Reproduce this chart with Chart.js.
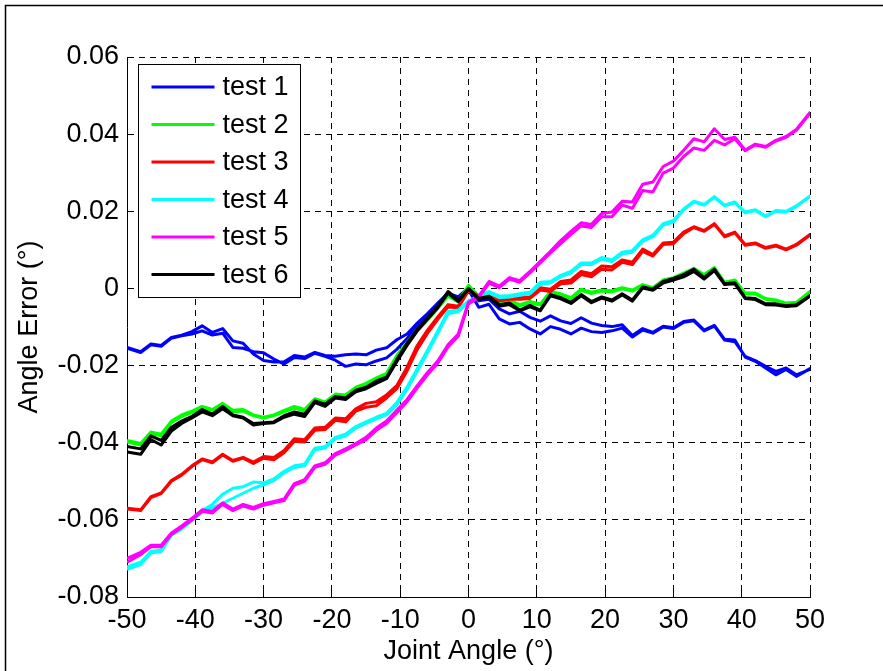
<!DOCTYPE html>
<html lang="en">
<head>
    <meta charset="UTF-8">
    <title>Angle Error vs Joint Angle</title>
    <script src="https://cdn.jsdelivr.net/npm/chart.js"></script>
    <style>
        body {
            margin: 0;
            background: #fff;
        }
        canvas {
            display: block;
        }
    </style>
</head>
<body>
    <canvas id="errorChart" width="883" height="671"></canvas>

    <script>
        // Joint angle samples (degrees), shared by every sweep
        const angles = [-50, -48, -46.5, -45, -43.5, -42, -40.5, -39, -37.5, -36,
            -34.5, -33, -31.5, -30, -28.5, -27, -25.5, -24, -22.5, -21,
            -19.5, -18, -16.5, -15, -13.5, -12, -10.5, -9, -7.5, -6,
            -4.5, -3, -1.5, 0, 1.5, 3, 4.5, 6, 7.5, 9,
            10.5, 12, 13.5, 15, 16.5, 18, 19.5, 21, 22.5, 24,
            25.5, 27, 28.5, 30, 31.5, 33, 34.5, 36, 37.5, 39,
            40.5, 42, 43.5, 45, 46.5, 48, 50];

        const testLabels = ['test 1', 'test 2', 'test 3', 'test 4', 'test 5', 'test 6'];
        const testColors = ['#0000ff', '#00ff00', '#ff0000', '#00ffff', '#ff00ff', '#000000'];

        // Angle error (degrees): outward sweep and return sweep for each test
        const test1Out = [-0.0153, -0.0164, -0.0144, -0.0148, -0.0127, -0.0121, -0.0112, -0.0097, -0.0114, -0.0104,
            -0.0136, -0.0142, -0.0170, -0.0187, -0.0191, -0.0190, -0.0174, -0.0178, -0.0166, -0.0174,
            -0.0176, -0.0172, -0.0170, -0.0172, -0.0160, -0.0154, -0.0133, -0.0118, -0.0090, -0.0065,
            -0.0038, -0.0012, -0.0022, 0.0002, -0.0032, -0.0028, -0.0053, -0.0066, -0.0059, -0.0075,
            -0.0085, -0.0071, -0.0084, -0.0091, -0.0076, -0.0090, -0.0096, -0.0099, -0.0094, -0.0122,
            -0.0104, -0.0114, -0.0098, -0.0102, -0.0086, -0.0082, -0.0108, -0.0096, -0.0132, -0.0134,
            -0.0178, -0.0189, -0.0206, -0.0224, -0.0210, -0.0228, -0.0208];
        const test1Back = [-0.0155, -0.0166, -0.0146, -0.0150, -0.0129, -0.0123, -0.0118, -0.0110, -0.0121, -0.0116,
            -0.0153, -0.0155, -0.0164, -0.0167, -0.0183, -0.0196, -0.0179, -0.0182, -0.0168, -0.0176,
            -0.0186, -0.0202, -0.0196, -0.0198, -0.0188, -0.0180, -0.0158, -0.0130, -0.0100, -0.0072,
            -0.0046, -0.0018, -0.0028, -0.0004, -0.0049, -0.0041, -0.0079, -0.0092, -0.0088, -0.0105,
            -0.0118, -0.0099, -0.0106, -0.0118, -0.0103, -0.0112, -0.0114, -0.0110, -0.0103, -0.0126,
            -0.0108, -0.0116, -0.0100, -0.0104, -0.0088, -0.0084, -0.0110, -0.0098, -0.0134, -0.0138,
            -0.0176, -0.0187, -0.0202, -0.0215, -0.0206, -0.0224, -0.0210];

        const test2Out = [-0.0394, -0.0402, -0.0372, -0.0378, -0.0344, -0.0328, -0.0318, -0.0306, -0.0314, -0.0298,
            -0.0316, -0.0314, -0.0328, -0.0334, -0.0328, -0.0316, -0.0306, -0.0314, -0.0286, -0.0294,
            -0.0274, -0.0276, -0.0256, -0.0246, -0.0232, -0.0220, -0.0174, -0.0140, -0.0106, -0.0078,
            -0.0048, -0.0016, -0.0032, 0.0008, -0.0020, -0.0014, -0.0038, -0.0030, -0.0042, -0.0034,
            -0.0040, -0.0008, -0.0014, -0.0024, -0.0002, -0.0010, -0.0004, -0.0006, 0.0002, -0.0004,
            0.0010, 0.0002, 0.0022, 0.0028, 0.0040, 0.0052, 0.0036, 0.0054, 0.0016, 0.0022,
            -0.0012, -0.0012, -0.0026, -0.0030, -0.0038, -0.0036, -0.0008];
        const test2Back = [-0.0398, -0.0406, -0.0376, -0.0382, -0.0348, -0.0332, -0.0322, -0.0310, -0.0316, -0.0302,
            -0.0320, -0.0318, -0.0330, -0.0336, -0.0330, -0.0320, -0.0310, -0.0318, -0.0290, -0.0298,
            -0.0278, -0.0280, -0.0260, -0.0250, -0.0236, -0.0224, -0.0180, -0.0146, -0.0110, -0.0082,
            -0.0052, -0.0020, -0.0035, 0.0006, -0.0023, -0.0017, -0.0041, -0.0033, -0.0045, -0.0037,
            -0.0043, -0.0011, -0.0017, -0.0027, -0.0005, -0.0013, -0.0007, -0.0009, -0.0001, -0.0007,
            0.0007, -0.0001, 0.0019, 0.0025, 0.0036, 0.0049, 0.0033, 0.0051, 0.0013, 0.0019,
            -0.0014, -0.0015, -0.0028, -0.0032, -0.0040, -0.0039, -0.0011];

        const test3Out = [-0.0570, -0.0574, -0.0540, -0.0530, -0.0498, -0.0482, -0.0460, -0.0442, -0.0450, -0.0430,
            -0.0446, -0.0438, -0.0450, -0.0436, -0.0438, -0.0420, -0.0390, -0.0392, -0.0362, -0.0360,
            -0.0336, -0.0338, -0.0312, -0.0298, -0.0294, -0.0276, -0.0252, -0.0204, -0.0148, -0.0108,
            -0.0074, -0.0042, -0.0046, -0.0004, -0.0020, -0.0020, -0.0028, -0.0024, -0.0024, -0.0022,
            0.0002, -0.0002, 0.0018, 0.0022, 0.0044, 0.0038, 0.0058, 0.0056, 0.0074, 0.0068,
            0.0102, 0.0088, 0.0118, 0.0120, 0.0146, 0.0160, 0.0150, 0.0168, 0.0136, 0.0146,
            0.0114, 0.0118, 0.0106, 0.0112, 0.0102, 0.0114, 0.0140];
        const test3Back = [-0.0572, -0.0576, -0.0542, -0.0532, -0.0500, -0.0484, -0.0462, -0.0444, -0.0452, -0.0432,
            -0.0448, -0.0440, -0.0454, -0.0440, -0.0444, -0.0426, -0.0396, -0.0398, -0.0368, -0.0366,
            -0.0342, -0.0346, -0.0318, -0.0308, -0.0304, -0.0284, -0.0260, -0.0214, -0.0158, -0.0116,
            -0.0080, -0.0048, -0.0050, -0.0006, -0.0024, -0.0024, -0.0032, -0.0028, -0.0028, -0.0026,
            -0.0004, -0.0008, 0.0012, 0.0014, 0.0036, 0.0030, 0.0050, 0.0048, 0.0068, 0.0062,
            0.0096, 0.0084, 0.0114, 0.0116, 0.0142, 0.0158, 0.0148, 0.0166, 0.0134, 0.0144,
            0.0112, 0.0116, 0.0104, 0.0110, 0.0100, 0.0112, 0.0138];

        const test4Out = [-0.0722, -0.0710, -0.0682, -0.0678, -0.0636, -0.0620, -0.0598, -0.0576, -0.0560, -0.0534,
            -0.0518, -0.0514, -0.0502, -0.0504, -0.0494, -0.0474, -0.0460, -0.0456, -0.0414, -0.0410,
            -0.0386, -0.0378, -0.0358, -0.0346, -0.0334, -0.0324, -0.0296, -0.0256, -0.0208, -0.0160,
            -0.0110, -0.0060, -0.0056, -0.0032, -0.0020, -0.0008, -0.0020, -0.0018, -0.0014, -0.0010,
            0.0016, 0.0018, 0.0034, 0.0044, 0.0066, 0.0066, 0.0080, 0.0074, 0.0094, 0.0098,
            0.0126, 0.0138, 0.0168, 0.0176, 0.0206, 0.0226, 0.0218, 0.0238, 0.0216, 0.0224,
            0.0198, 0.0204, 0.0188, 0.0202, 0.0200, 0.0214, 0.0240];
        const test4Back = [-0.0728, -0.0716, -0.0686, -0.0682, -0.0640, -0.0624, -0.0602, -0.0580, -0.0569, -0.0557,
            -0.0544, -0.0531, -0.0518, -0.0509, -0.0498, -0.0478, -0.0464, -0.0460, -0.0418, -0.0414,
            -0.0390, -0.0382, -0.0362, -0.0350, -0.0338, -0.0328, -0.0302, -0.0262, -0.0214, -0.0166,
            -0.0116, -0.0066, -0.0060, -0.0036, -0.0024, -0.0012, -0.0024, -0.0022, -0.0018, -0.0014,
            0.0010, 0.0014, 0.0030, 0.0040, 0.0062, 0.0062, 0.0076, 0.0070, 0.0090, 0.0094,
            0.0122, 0.0134, 0.0164, 0.0172, 0.0204, 0.0224, 0.0216, 0.0236, 0.0214, 0.0222,
            0.0196, 0.0202, 0.0186, 0.0200, 0.0198, 0.0212, 0.0238];

        const test5Out = [-0.0700, -0.0684, -0.0666, -0.0666, -0.0634, -0.0616, -0.0596, -0.0574, -0.0578, -0.0556,
            -0.0572, -0.0560, -0.0568, -0.0558, -0.0552, -0.0546, -0.0506, -0.0496, -0.0460, -0.0452,
            -0.0428, -0.0416, -0.0402, -0.0386, -0.0362, -0.0344, -0.0316, -0.0288, -0.0252, -0.0218,
            -0.0188, -0.0146, -0.0118, -0.0036, -0.0020, 0.0018, 0.0006, 0.0028, 0.0020, 0.0044,
            0.0070, 0.0096, 0.0124, 0.0148, 0.0170, 0.0166, 0.0194, 0.0198, 0.0226, 0.0224,
            0.0270, 0.0276, 0.0316, 0.0330, 0.0358, 0.0388, 0.0380, 0.0414, 0.0386, 0.0392,
            0.0359, 0.0374, 0.0368, 0.0384, 0.0394, 0.0412, 0.0456];
        const test5Back = [-0.0710, -0.0690, -0.0670, -0.0670, -0.0638, -0.0620, -0.0600, -0.0578, -0.0582, -0.0560,
            -0.0576, -0.0564, -0.0572, -0.0562, -0.0556, -0.0550, -0.0510, -0.0500, -0.0464, -0.0456,
            -0.0432, -0.0420, -0.0406, -0.0392, -0.0368, -0.0350, -0.0322, -0.0294, -0.0258, -0.0224,
            -0.0194, -0.0152, -0.0124, -0.0040, -0.0024, 0.0014, 0.0002, 0.0024, 0.0016, 0.0040,
            0.0066, 0.0092, 0.0116, 0.0140, 0.0162, 0.0158, 0.0186, 0.0186, 0.0216, 0.0208,
            0.0254, 0.0250, 0.0299, 0.0312, 0.0342, 0.0364, 0.0358, 0.0384, 0.0372, 0.0388,
            0.0357, 0.0372, 0.0366, 0.0382, 0.0392, 0.0410, 0.0454];

        const test6Out = [-0.0410, -0.0416, -0.0382, -0.0394, -0.0360, -0.0344, -0.0332, -0.0314, -0.0326, -0.0306,
            -0.0328, -0.0334, -0.0350, -0.0348, -0.0346, -0.0330, -0.0320, -0.0326, -0.0292, -0.0300,
            -0.0280, -0.0284, -0.0264, -0.0256, -0.0240, -0.0230, -0.0184, -0.0142, -0.0106, -0.0076,
            -0.0046, -0.0008, -0.0030, 0.0000, -0.0026, -0.0020, -0.0042, -0.0038, -0.0056, -0.0044,
            -0.0056, -0.0016, -0.0024, -0.0036, -0.0016, -0.0034, -0.0022, -0.0030, -0.0014, -0.0030,
            0.0004, -0.0002, 0.0018, 0.0026, 0.0036, 0.0050, 0.0028, 0.0050, 0.0012, 0.0015,
            -0.0024, -0.0026, -0.0040, -0.0040, -0.0045, -0.0042, -0.0018];
        const test6Back = [-0.0424, -0.0430, -0.0392, -0.0406, -0.0370, -0.0350, -0.0336, -0.0320, -0.0330, -0.0312,
            -0.0330, -0.0336, -0.0354, -0.0350, -0.0348, -0.0334, -0.0326, -0.0332, -0.0296, -0.0306,
            -0.0284, -0.0288, -0.0268, -0.0260, -0.0246, -0.0234, -0.0190, -0.0148, -0.0110, -0.0080,
            -0.0050, -0.0012, -0.0034, -0.0002, -0.0028, -0.0024, -0.0046, -0.0042, -0.0058, -0.0048,
            -0.0058, -0.0019, -0.0027, -0.0039, -0.0019, -0.0037, -0.0025, -0.0033, -0.0017, -0.0033,
            0.0001, -0.0005, 0.0014, 0.0022, 0.0030, 0.0044, 0.0024, 0.0046, 0.0010, 0.0012,
            -0.0026, -0.0029, -0.0042, -0.0043, -0.0047, -0.0045, -0.0020];

        const sweeps = [
            [test1Out, test1Back],
            [test2Out, test2Back],
            [test3Out, test3Back],
            [test4Out, test4Back],
            [test5Out, test5Back],
            [test6Out, test6Back]
        ];

        const FONT = '"Liberation Sans", Arial, Helvetica, sans-serif';
        const TEXT_SIZE = 27;
        Chart.defaults.font.family = FONT;
        Chart.defaults.font.size = TEXT_SIZE;
        Chart.defaults.color = '#000';

        // One closed path per test: out from -50 to 50, then back to -50
        function loopPoints(outward, back) {
            const there = angles.map((a, i) => ({ x: a, y: outward[i] }));
            const home = angles.map((a, i) => ({ x: a, y: back[i] })).reverse();
            return there.concat(home);
        }

        // White page with the figure frame along the top and left edges
        const figureFrame = {
            id: 'figureFrame',
            beforeDraw(chart) {
                const ctx = chart.ctx;
                ctx.save();
                ctx.fillStyle = '#fff';
                ctx.fillRect(0, 0, chart.width, chart.height);
                ctx.strokeStyle = '#000';
                ctx.lineWidth = 1.5;
                ctx.beginPath();
                ctx.moveTo(5.5, chart.height + 2);
                ctx.lineTo(5.5, 5.5);
                ctx.lineTo(chart.width + 2, 5.5);
                ctx.stroke();
                ctx.restore();
            }
        };

        // Short tick marks pointing into the plot on the left and bottom axes
        const innerTicks = {
            id: 'innerTicks',
            beforeDatasetsDraw(chart) {
                const { ctx, chartArea: area, scales } = chart;
                const snap = p => Math.round(p - 0.5) + 0.5;
                ctx.save();
                ctx.strokeStyle = '#000';
                ctx.lineWidth = 1;
                ctx.beginPath();
                scales.x.ticks.forEach(t => {
                    const px = snap(scales.x.getPixelForValue(t.value));
                    ctx.moveTo(px, area.bottom);
                    ctx.lineTo(px, area.bottom - 7);
                });
                scales.y.ticks.forEach(t => {
                    const py = snap(scales.y.getPixelForValue(t.value));
                    ctx.moveTo(area.left, py);
                    ctx.lineTo(area.left + 7, py);
                });
                ctx.stroke();
                ctx.restore();
            }
        };

        // Boxed legend in the upper left corner of the plot
        const boxLegend = {
            id: 'boxLegend',
            afterDraw(chart) {
                const { ctx, chartArea: area } = chart;
                const left = area.left + 11.5;
                const top = area.top + 7.5;
                ctx.save();
                ctx.fillStyle = '#fff';
                ctx.fillRect(left, top, 162, 233);
                ctx.strokeStyle = '#000';
                ctx.lineWidth = 1;
                ctx.strokeRect(left, top, 162, 233);
                ctx.font = TEXT_SIZE + 'px ' + FONT;
                ctx.textBaseline = 'middle';
                chart.data.datasets.forEach((ds, i) => {
                    const cy = top + 22.5 + i * 37.5;
                    ctx.strokeStyle = ds.borderColor;
                    ctx.lineWidth = 3;
                    ctx.beginPath();
                    ctx.moveTo(left + 13, cy);
                    ctx.lineTo(left + 76, cy);
                    ctx.stroke();
                    ctx.fillStyle = '#000';
                    ctx.fillText(ds.label, left + 84, cy + 1);
                });
                ctx.restore();
            }
        };

        const datasets = testLabels.map((label, i) => ({
            label: label,
            data: loopPoints(sweeps[i][0], sweeps[i][1]),
            borderColor: testColors[i],
            backgroundColor: testColors[i],
            borderWidth: 3,
            borderJoinStyle: 'round',
            pointRadius: 0,
            tension: 0,
            fill: false,
            order: testLabels.length - 1 - i
        }));

        const ctx = document.getElementById('errorChart').getContext('2d');
        new Chart(ctx, {
            type: 'line',
            data: { datasets: datasets },
            plugins: [figureFrame, innerTicks, boxLegend],
            options: {
                responsive: false,
                animation: false,
                devicePixelRatio: 1,
                layout: {
                    padding: { left: 0, top: 57, right: 73, bottom: 0 }
                },
                plugins: {
                    legend: { display: false },
                    tooltip: { enabled: false }
                },
                scales: {
                    x: {
                        type: 'linear',
                        min: -50,
                        max: 50,
                        ticks: {
                            stepSize: 10,
                            padding: 7,
                            autoSkip: false,
                            maxRotation: 0,
                            color: '#000'
                        },
                        grid: { color: '#000', lineWidth: 1, drawTicks: false },
                        border: { display: true, color: '#000', width: 1, dash: [6, 5] },
                        title: {
                            display: true,
                            text: 'Joint Angle (°)',
                            color: '#000',
                            padding: { top: 0, bottom: 3 }
                        },
                        afterFit(scale) { scale.height = 74; }
                    },
                    y: {
                        type: 'linear',
                        min: -0.08,
                        max: 0.06,
                        ticks: {
                            stepSize: 0.02,
                            padding: 8,
                            color: '#000',
                            callback: v => String(+v.toFixed(2))
                        },
                        grid: { color: '#000', lineWidth: 1, drawTicks: false },
                        border: { display: true, color: '#000', width: 1, dash: [6, 5] },
                        title: {
                            display: true,
                            text: 'Angle Error (°)',
                            color: '#000',
                            padding: { top: 13, bottom: 0 }
                        },
                        afterFit(scale) { scale.width = 127; }
                    }
                }
            }
        });
    </script>
</body>
</html>
